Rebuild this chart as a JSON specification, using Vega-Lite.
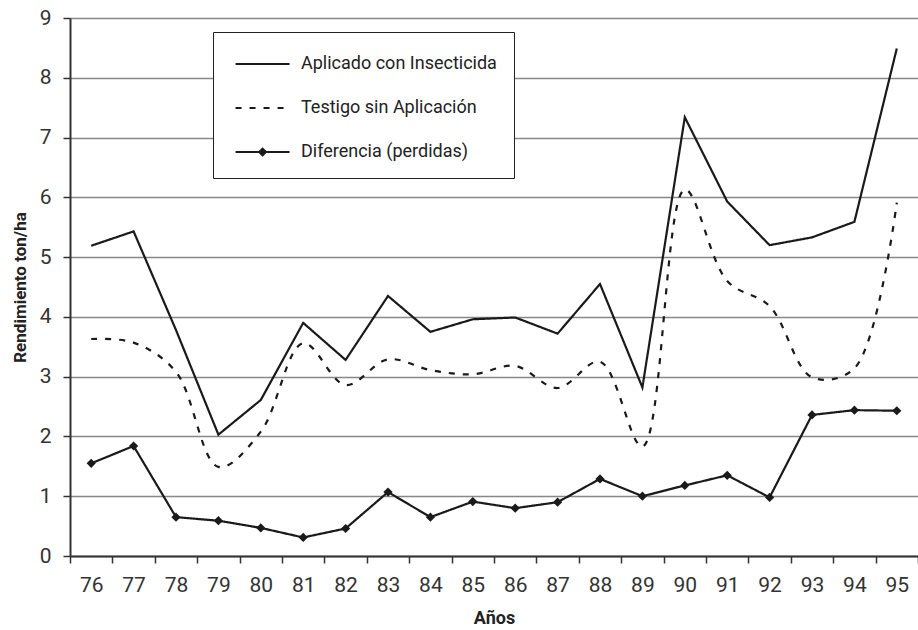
{
  "$schema": "https://vega.github.io/schema/vega-lite/v6.json",
  "width": 848,
  "height": 538,
  "autosize": {"type": "none"},
  "padding": {"left": 70, "top": 18, "right": 0, "bottom": 74},
  "background": "white",
  "config": {
    "font": "Roboto, Liberation Sans, sans-serif",
    "view": {"stroke": null}
  },
  "data": {
    "values": [
      {"year": "76", "series": "Aplicado con Insecticida", "value": 5.19},
      {"year": "77", "series": "Aplicado con Insecticida", "value": 5.43},
      {"year": "78", "series": "Aplicado con Insecticida", "value": 3.78},
      {"year": "79", "series": "Aplicado con Insecticida", "value": 2.03},
      {"year": "80", "series": "Aplicado con Insecticida", "value": 2.61},
      {"year": "81", "series": "Aplicado con Insecticida", "value": 3.9},
      {"year": "82", "series": "Aplicado con Insecticida", "value": 3.28},
      {"year": "83", "series": "Aplicado con Insecticida", "value": 4.35},
      {"year": "84", "series": "Aplicado con Insecticida", "value": 3.75},
      {"year": "85", "series": "Aplicado con Insecticida", "value": 3.96},
      {"year": "86", "series": "Aplicado con Insecticida", "value": 3.99},
      {"year": "87", "series": "Aplicado con Insecticida", "value": 3.72},
      {"year": "88", "series": "Aplicado con Insecticida", "value": 4.55},
      {"year": "89", "series": "Aplicado con Insecticida", "value": 2.82},
      {"year": "90", "series": "Aplicado con Insecticida", "value": 7.34},
      {"year": "91", "series": "Aplicado con Insecticida", "value": 5.93},
      {"year": "92", "series": "Aplicado con Insecticida", "value": 5.2},
      {"year": "93", "series": "Aplicado con Insecticida", "value": 5.33},
      {"year": "94", "series": "Aplicado con Insecticida", "value": 5.59},
      {"year": "95", "series": "Aplicado con Insecticida", "value": 8.49},
      {"year": "76", "series": "Testigo sin Aplicación", "value": 3.63},
      {"year": "77", "series": "Testigo sin Aplicación", "value": 3.57},
      {"year": "78", "series": "Testigo sin Aplicación", "value": 3.08},
      {"year": "79", "series": "Testigo sin Aplicación", "value": 1.49},
      {"year": "80", "series": "Testigo sin Aplicación", "value": 2.08},
      {"year": "81", "series": "Testigo sin Aplicación", "value": 3.56},
      {"year": "82", "series": "Testigo sin Aplicación", "value": 2.86},
      {"year": "83", "series": "Testigo sin Aplicación", "value": 3.29},
      {"year": "84", "series": "Testigo sin Aplicación", "value": 3.11},
      {"year": "85", "series": "Testigo sin Aplicación", "value": 3.04},
      {"year": "86", "series": "Testigo sin Aplicación", "value": 3.18},
      {"year": "87", "series": "Testigo sin Aplicación", "value": 2.81},
      {"year": "88", "series": "Testigo sin Aplicación", "value": 3.25},
      {"year": "89", "series": "Testigo sin Aplicación", "value": 1.83},
      {"year": "90", "series": "Testigo sin Aplicación", "value": 6.13},
      {"year": "91", "series": "Testigo sin Aplicación", "value": 4.6},
      {"year": "92", "series": "Testigo sin Aplicación", "value": 4.18},
      {"year": "93", "series": "Testigo sin Aplicación", "value": 2.99},
      {"year": "94", "series": "Testigo sin Aplicación", "value": 3.14},
      {"year": "95", "series": "Testigo sin Aplicación", "value": 5.91},
      {"year": "76", "series": "Diferencia (perdidas)", "value": 1.55},
      {"year": "77", "series": "Diferencia (perdidas)", "value": 1.84},
      {"year": "78", "series": "Diferencia (perdidas)", "value": 0.65},
      {"year": "79", "series": "Diferencia (perdidas)", "value": 0.59},
      {"year": "80", "series": "Diferencia (perdidas)", "value": 0.47},
      {"year": "81", "series": "Diferencia (perdidas)", "value": 0.31},
      {"year": "82", "series": "Diferencia (perdidas)", "value": 0.46},
      {"year": "83", "series": "Diferencia (perdidas)", "value": 1.07},
      {"year": "84", "series": "Diferencia (perdidas)", "value": 0.65},
      {"year": "85", "series": "Diferencia (perdidas)", "value": 0.91},
      {"year": "86", "series": "Diferencia (perdidas)", "value": 0.8},
      {"year": "87", "series": "Diferencia (perdidas)", "value": 0.9},
      {"year": "88", "series": "Diferencia (perdidas)", "value": 1.29},
      {"year": "89", "series": "Diferencia (perdidas)", "value": 1.0},
      {"year": "90", "series": "Diferencia (perdidas)", "value": 1.18},
      {"year": "91", "series": "Diferencia (perdidas)", "value": 1.35},
      {"year": "92", "series": "Diferencia (perdidas)", "value": 0.98},
      {"year": "93", "series": "Diferencia (perdidas)", "value": 2.36},
      {"year": "94", "series": "Diferencia (perdidas)", "value": 2.44},
      {"year": "95", "series": "Diferencia (perdidas)", "value": 2.43}
    ]
  },
  "encoding": {
    "x": {
      "field": "year",
      "type": "ordinal",
      "bandPosition": 0.5,
      "scale": {"type": "band", "paddingInner": 0, "paddingOuter": 0},
      "axis": {
        "title": "Años",
        "titleFontWeight": "bold",
        "titleFontSize": 18,
        "titleColor": "#222",
        "titlePadding": 14,
        "labelFontSize": 21,
        "labelColor": "#333",
        "labelAngle": 0,
        "labelPadding": 11,
        "tickBand": "extent",
        "tickSize": 7,
        "tickColor": "#333",
        "tickWidth": 1.5,
        "domainColor": "#333",
        "domainWidth": 2,
        "grid": false
      }
    },
    "y": {
      "field": "value",
      "type": "quantitative",
      "scale": {"domain": [0, 9], "nice": false},
      "axis": {
        "title": "Rendimiento ton/ha",
        "titleFontWeight": "bold",
        "titleFontSize": 17,
        "titleColor": "#222",
        "titlePadding": 10,
        "labelFontSize": 21,
        "labelColor": "#333",
        "labelPadding": 12,
        "values": [0, 1, 2, 3, 4, 5, 6, 7, 8, 9],
        "tickSize": 7,
        "tickColor": "#333",
        "tickWidth": 1.5,
        "domainColor": "#333",
        "domainWidth": 2,
        "grid": true,
        "gridColor": "#888",
        "gridWidth": 1.5
      }
    }
  },
  "layer": [
    {
      "transform": [{"filter": "datum.series !== 'Testigo sin Aplicación'"}],
      "mark": {"type": "line", "color": "#1a1a1a", "strokeWidth": 2.2},
      "encoding": {
        "detail": {"field": "series"},
        "strokeDash": {
          "field": "series",
          "type": "nominal",
          "scale": {
            "domain": ["Aplicado con Insecticida", "Testigo sin Aplicación", "Diferencia (perdidas)"],
            "range": [[1, 0], [6, 8], [1, 0]]
          },
          "legend": {
            "title": null,
            "orient": "none",
            "legendX": 143,
            "legendY": 14,
            "direction": "vertical",
            "fillColor": "white",
            "strokeColor": "#222",
            "padding": 17,
            "labelFontSize": 18,
            "labelColor": "#222",
            "labelLimit": 400,
            "labelOffset": 41,
            "symbolSize": 729,
            "symbolStrokeWidth": 2.2,
            "symbolStrokeColor": "#1a1a1a",
            "rowPadding": 20,
            "encode": {
              "symbols": {
                "update": {
                  "shape": {"signal": "datum.value === 'Diferencia (perdidas)' ? 'M-0.7,0H3.3M1.3,-0.24L1.54,0L1.3,0.24L1.06,0Z' : 'M-0.7,0H3.3'"},
                  "fill": {"value": "#1a1a1a"},
                  "stroke": {"value": "#1a1a1a"}
                }
              }
            }
          }
        }
      }
    },
    {
      "transform": [{"filter": "datum.series === 'Testigo sin Aplicación'"}],
      "mark": {"type": "line", "color": "#1a1a1a", "strokeWidth": 2.2, "interpolate": "catmull-rom"},
      "encoding": {
        "strokeDash": {"field": "series", "type": "nominal"}
      }
    },
    {
      "transform": [{"filter": "datum.series === 'Diferencia (perdidas)'"}],
      "mark": {"type": "point", "shape": "diamond", "filled": true, "color": "#1a1a1a", "size": 85, "opacity": 1}
    }
  ]
}
